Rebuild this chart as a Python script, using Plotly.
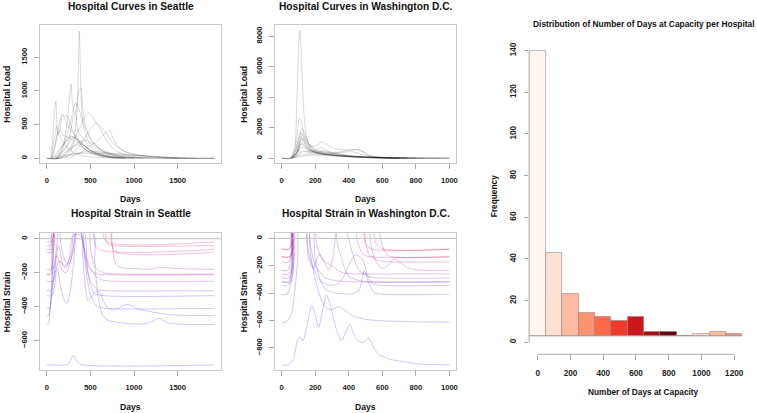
import plotly.graph_objects as go

W, H = 757, 413

# ---------------- DATA ----------------
# Seattle hospital load curves: (days, load)
SEA_LOAD = [
    ([0,150,250,300,340,360,372,385,400,430,480,560,700,900,1200,1922], [0,0,60,200,600,1300,1890,1300,700,400,250,150,60,20,5,0]),
    ([0,120,180,230,260,277,295,320,345,370,392,415,450,520,650,900,1922], [0,0,150,500,900,1100,800,650,800,1000,1050,700,450,250,100,20,0]),
    ([40,65,85,103,118,140,170,220,300,450,700,900], [0,250,650,850,450,330,280,180,90,30,5,0]),
    ([60,100,140,175,200,230,260,300,360,450,600,900,1100], [0,250,500,660,620,640,540,400,250,120,40,10,0]),
    ([110,180,240,290,330,360,400,450,520,650,850,1000], [0,150,400,650,820,760,600,420,250,100,25,0]),
    ([0,150,250,330,400,440,475,510,550,600,680,780,950,1200,1922], [0,0,120,320,520,620,670,640,560,460,280,120,40,10,0]),
    ([200,300,380,450,510,560,600,650,720,800,950,1200,1500,1700], [0,80,200,330,460,520,490,420,300,170,70,25,8,0]),
    ([250,380,480,560,630,690,720,750,800,900,1050,1300,1500], [0,80,170,240,320,390,420,330,200,100,50,15,0]),
    ([50,90,125,150,180,230,300,380,480,600,800,1000], [0,150,380,430,350,320,280,220,140,60,15,0]),
    ([80,150,210,260,320,380,450,550,700,900], [0,120,250,330,310,240,160,80,25,0]),
    ([100,180,250,300,350,420,500,650,900,1100], [0,100,220,310,280,200,120,50,10,0]),
    ([120,220,290,340,390,460,560,700,900], [0,70,160,200,180,120,60,20,0]),
    ([60,110,170,230,280,330,380,450,600,800], [0,80,180,260,320,300,220,120,40,0]),
    ([0,150,250,400,550,700,900,1100,1300,1500,1922], [0,0,40,90,100,80,60,40,25,10,0]),
    ([100,200,350,500,700,900,1100,1350,1600], [0,40,70,75,65,50,35,15,0]),
    ([60,150,230,280,305,330,350,380,430,500,600,750,950], [0,70,180,450,630,640,450,350,280,170,80,20,0]),
    ([50,85,110,130,150,175,200,240,300,380,480,650,850], [0,300,480,350,420,640,600,480,380,260,130,30,0]),
    ([100,200,300,380,450,520,600,750,1000,1200], [0,80,180,240,270,220,150,70,20,0]),
]

# Washington D.C. hospital load curves: (days, load)
DC_LOAD = [
    ([0,55,75,90,100,108,116,125,140,160,190,250,350,500,700,1000], [0,0,500,3500,7000,8390,7000,4500,2000,900,450,250,120,40,5,0]),
    ([0,50,75,95,105,118,140,170,205,240,270,310,360,410,460,490,520,600,800,1000], [0,0,500,1800,2600,2300,1300,800,800,1050,900,650,560,550,560,400,150,30,5,0]),
    ([55,80,100,122,140,170,210,260,320,390,440,480,520,600,800], [0,400,1300,1950,1500,800,450,380,350,500,550,450,200,50,0]),
    ([55,80,100,115,135,170,210,250,300,380,500,700], [0,400,1200,1700,1200,600,400,480,350,180,50,0]),
    ([55,85,100,112,130,165,200,235,280,350,450,600,750], [0,400,1000,1400,1150,550,500,700,450,260,120,20,0]),
    ([0,55,85,105,118,140,180,240,300,360,420,470,520,650,1000], [0,0,300,900,1200,900,500,320,300,380,420,280,120,20,0]),
    ([60,90,108,125,150,200,260,350,500,700], [0,350,850,950,650,380,250,150,50,0]),
    ([60,90,110,130,160,220,300,400,550,750], [0,250,650,700,520,300,200,110,40,0]),
    ([70,100,125,150,190,250,330,450,650], [0,250,480,450,380,280,160,60,0]),
    ([60,100,130,170,220,300,400,550,800], [0,250,430,380,300,200,110,40,0]),
    ([60,95,115,135,170,230,300,400,500,700,850], [0,400,950,800,500,350,230,130,60,10,0]),
    ([0,60,100,140,200,280,360,450,600,800,1000], [0,0,150,280,260,220,180,110,40,10,0]),
    ([60,90,110,125,150,200,260,350,500,700], [0,400,1100,1300,900,500,300,160,50,0]),
    ([60,110,170,250,350,480,620,800,950], [0,100,200,170,130,110,60,20,0]),
    ([60,100,120,150,200,300,400,550,750], [0,500,1600,1100,600,300,150,60,0]),
]

# Seattle hospital strain curves (load - capacity), ordered small -> large capacity
SEA_STRAIN = [
    ([0,50,80,110,600,640,680,1922], [-18,-18,40,400,400,60,-15,-18]),
    ([0,45,75,100,640,670,700,750,1922], [-40,-40,20,300,300,30,-30,-40,-40]),
    ([0,55,80,100,500,540,580,1922], [-63,-63,0,300,300,0,-60,-63]),
    ([0,60,85,110,700,740,780,1922], [-80,-80,-20,300,300,-10,-75,-80]),
    ([0,50,70,90,720,745,760,790,850,1000,1150,1300,1500,1922], [-180,-180,-120,200,200,0,-80,-150,-170,-175,-180,-170,-176,-180]),
    ([0,40,60,80,100,450,500,560,650,800,1922], [-208,-208,-150,-50,200,200,-60,-170,-200,-207,-208]),
    ([0,50,80,110,140,180,220,260,300,340,380,430,480,560,700,1922], [-212,-212,-160,-100,-130,-190,-200,-150,-60,50,50,-80,-170,-205,-212,-212]),
    ([0,70,100,130,150,180,220,260,300,380,430,480,560,650,800,1922], [-250,-250,-150,-40,-60,-150,-170,-100,20,20,-60,-150,-220,-245,-250,-250]),
    ([0,50,80,110,140,170,210,250,300,340,400,440,500,580,700,1922], [-306,-306,-220,-50,50,-60,-130,-150,-80,50,50,-120,-250,-300,-306,-306]),
    ([0,60,90,120,150,190,230,280,320,420,470,540,650,1922], [-335,-335,-270,-150,-130,-160,-150,-90,50,50,-200,-320,-335,-335]),
    ([0,30,60,90,120,150,190,230,270,310,350,400,440,500,580,700,1922], [-410,-410,-320,-200,-180,-260,-350,-380,-300,-120,50,20,-150,-330,-400,-410,-410]),
    ([0,20,45,70,100,380,410,440,470,510,560,610,650,700,760,850,920,980,1050,1150,1300,1500,1922], [-453,-453,-380,-150,50,50,-100,-280,-365,-340,-310,-320,-370,-410,-420,-400,-388,-395,-415,-425,-440,-450,-453]),
    ([0,15,35,60,80,520,550,590,640,700,800,950,1100,1200,1290,1380,1500,1922], [-505,-505,-420,-200,50,50,-150,-350,-450,-480,-492,-500,-502,-490,-468,-495,-503,-505]),
    ([0,200,250,280,300,320,360,420,1922], [-743,-743,-735,-705,-688,-700,-730,-743,-743]),
]

# Washington D.C. hospital strain curves, ordered small -> large capacity
DC_STRAIN = [
    ([0,40,60,75,520,560,600,1000], [-78,-78,-40,200,200,-30,-75,-78]),
    ([0,45,65,80,460,500,540,1000], [-80,-80,-30,200,200,-40,-78,-80]),
    ([0,50,70,85,560,590,620,650,1000], [-134,-134,-80,200,200,0,-110,-133,-134]),
    ([0,45,65,80,420,450,490,530,1000], [-136,-136,-70,200,200,-20,-120,-134,-136]),
    ([0,40,60,80,470,500,520,560,600,650,1000], [-173,-173,-100,200,200,-20,-115,-155,-168,-172,-173]),
    ([0,35,55,75,500,530,560,600,640,670,700,760,850,1000], [-234,-234,-150,200,200,-40,-160,-220,-190,-150,-170,-220,-232,-234]),
    ([0,40,60,75,180,210,240,270,300,330,360,400,460,1000], [-260,-260,-180,200,200,-50,-150,-180,-200,-230,-250,-258,-260,-260]),
    ([0,40,65,85,130,160,190,210,227,250,285,310,331,380,420,460,520,600,1000], [-290,-290,-200,200,200,-150,-220,-150,-115,-170,-230,-100,50,50,-100,-230,-280,-290,-290]),
    ([0,40,60,80,150,170,200,230,260,290,330,380,1000], [-316,-316,-230,200,200,-40,-200,-250,-290,-300,-310,-316,-316]),
    ([0,50,70,85,300,330,370,400,440,470,500,1000], [-320,-320,-220,200,200,-20,-200,-280,-300,-310,-318,-320]),
    ([0,40,60,80,130,160,200,240,280,320,360,400,440,480,510,540,600,1000], [-343,-343,-250,200,200,-100,-250,-320,-340,-340,-300,-200,-120,-150,-260,-330,-343,-343]),
    ([0,30,55,75,95,170,200,230,260,300,350,420,460,480,490,500,520,550,600,1000], [-409,-409,-330,-150,200,200,-150,-300,-370,-395,-403,-405,-380,-300,-238,-250,-330,-395,-408,-409]),
    ([0,30,55,75,95,110,150,170,200,230,260,290,320,345,380,430,500,600,800,1000], [-613,-610,-560,-420,-150,200,200,-100,-300,-430,-500,-520,-510,-500,-530,-570,-592,-603,-610,-613]),
    ([0,40,70,95,110,125,150,180,200,220,245,268,300,330,357,380,406,430,460,489,519,545,580,650,720,820,1000],
     [-925,-925,-880,-740,-720,-750,-650,-490,-560,-650,-520,-415,-540,-680,-745,-690,-630,-700,-755,-760,-728,-790,-850,-885,-900,-918,-925]),
]

HIST_BINS = [0, 100, 200, 300, 400, 500, 600, 700, 800, 900, 1000, 1100, 1200]
HIST_TOPS = [140, 43, 23, 14, 12, 10, 12, 5, 5, 3, 4, 5, 4]
HIST_BASE = 3
REDS = ["#FFF5F0", "#FEE0D2", "#FCBBA1", "#FC9272", "#FB6A4A", "#EF3B2C", "#CB181D", "#A50F15", "#67000D"]

SEA_X_TICKS = [0, 500, 1000, 1500]
DC_X_TICKS = [0, 200, 400, 600, 800, 1000]
SEA_LOAD_Y_TICKS = [0, 500, 1000, 1500]
DC_LOAD_Y_TICKS = [0, 2000, 4000, 6000, 8000]
SEA_STRAIN_Y_TICKS = [0, -200, -400, -600]
DC_STRAIN_Y_TICKS = [0, -200, -400, -600, -800]
HIST_X_TICKS = [0, 200, 400, 600, 800, 1000, 1200]
HIST_Y_TICKS = [0, 20, 40, 60, 80, 100, 120, 140]

# ---------------- FIGURE ----------------
FONT = "Liberation Sans"
fig = go.Figure()


def px_x(p):
    return p / W


def px_y(p):
    return 1 - p / H


def strain_color(i, n, alpha=0.33):
    t = i / (n - 1)
    c0 = (235, 0, 90)
    c1 = (45, 45, 255)
    r, g, b = [round(a + (b_ - a) * t) for a, b_ in zip(c0, c1)]
    return f"rgba({r},{g},{b},{alpha})"


LOAD_LINE = dict(color="rgba(0,0,0,0.19)", width=0.8, shape="spline", smoothing=0.8)

for d, v in SEA_LOAD:
    fig.add_trace(go.Scatter(x=d, y=v, mode="lines", xaxis="x", yaxis="y", line=LOAD_LINE,
                             hoverinfo="skip", showlegend=False))
for d, v in DC_LOAD:
    fig.add_trace(go.Scatter(x=d, y=v, mode="lines", xaxis="x2", yaxis="y2", line=LOAD_LINE,
                             hoverinfo="skip", showlegend=False))
for i, (d, v) in enumerate(SEA_STRAIN):
    fig.add_trace(go.Scatter(x=d, y=v, mode="lines", xaxis="x3", yaxis="y3",
                             line=dict(color=strain_color(i, len(SEA_STRAIN)), width=0.8, shape="spline", smoothing=0.8),
                             hoverinfo="skip", showlegend=False))
for i, (d, v) in enumerate(DC_STRAIN):
    fig.add_trace(go.Scatter(x=d, y=v, mode="lines", xaxis="x4", yaxis="y4",
                             line=dict(color=strain_color(i, len(DC_STRAIN)), width=0.8, shape="spline", smoothing=0.8),
                             hoverinfo="skip", showlegend=False))

bar_colors = [REDS[i % len(REDS)] for i in range(len(HIST_BINS))]
fig.add_trace(go.Bar(x=HIST_BINS, y=[t - HIST_BASE for t in HIST_TOPS], base=HIST_BASE, width=100,
                     xaxis="x5", yaxis="y5",
                     marker=dict(color=bar_colors, line=dict(color="rgba(150,130,125,0.55)", width=1)),
                     hoverinfo="skip", showlegend=False))
# baseline of the histogram (empty bins drawn as a line, as in R)
fig.add_trace(go.Scatter(x=[HIST_BINS[0] - 50, HIST_BINS[-1] + 50], y=[HIST_BASE, HIST_BASE], mode="lines",
                         xaxis="x5", yaxis="y5", line=dict(color="rgba(150,130,125,0.55)", width=1),
                         hoverinfo="skip", showlegend=False))

BOX = "#C8C8C8"
TICKC = "#A8A8A8"
tickfont = dict(family=FONT, size=7.6, color="#222222", weight="bold")


def line_xaxis(dom, rng, ticks, anchor):
    return dict(domain=dom, range=rng, anchor=anchor, tickvals=ticks, ticks="outside", ticklen=5,
                tickcolor=TICKC, tickwidth=1, showline=True, mirror=True, linecolor=BOX, linewidth=1,
                showgrid=False, zeroline=False, tickfont=tickfont, ticklabelstandoff=5, fixedrange=True)


def line_yaxis(dom, rng, ticks, anchor):
    return dict(domain=dom, range=rng, anchor=anchor, tickvals=ticks, ticks="outside", ticklen=5,
                tickcolor=TICKC, tickwidth=1, showline=True, mirror=True, linecolor=BOX, linewidth=1,
                showgrid=False, zeroline=False, tickfont=tickfont, tickangle=-90, ticklabelstandoff=4,
                fixedrange=True)


XL = [px_x(40.3), px_x(221.7)]
XM = [px_x(275.7), px_x(457.3)]
YT = [px_y(163.3), px_y(25)]
YB = [px_y(370), px_y(233.3)]

layout = dict(
    width=W, height=H, autosize=False, margin=dict(l=0, r=0, t=0, b=0),
    plot_bgcolor="white", paper_bgcolor="white", showlegend=False, bargap=0,
    xaxis=line_xaxis(XL, [-77, 1999], SEA_X_TICKS, "y"),
    yaxis=line_yaxis(YT, [-74, 1980], SEA_LOAD_Y_TICKS, "x"),
    xaxis2=line_xaxis(XM, [-40, 1040], DC_X_TICKS, "y2"),
    yaxis2=line_yaxis(YT, [-335, 8725], DC_LOAD_Y_TICKS, "x2"),
    xaxis3=line_xaxis(XL, [-77, 1999], SEA_X_TICKS, "y3"),
    yaxis3=line_yaxis(YB, [-773, 32], SEA_STRAIN_Y_TICKS, "x3"),
    xaxis4=line_xaxis(XM, [-40, 1040], DC_X_TICKS, "y4"),
    yaxis4=line_yaxis(YB, [-962, 37], DC_STRAIN_Y_TICKS, "x4"),
    xaxis5=dict(domain=[px_x(530.5), px_x(752)], range=[-52.9, 1296.7], anchor="y5", tickvals=HIST_X_TICKS,
                ticks="outside", ticklen=5, tickcolor=TICKC, showline=False, showgrid=False, zeroline=False,
                tickfont=dict(family=FONT, size=8.2, color="#222222", weight="bold"), ticklabelstandoff=6,
                fixedrange=True),
    yaxis5=dict(domain=[px_y(354.3), px_y(30)], range=[-5.76, 149.9], anchor="x5", tickvals=HIST_Y_TICKS,
                ticks="outside", ticklen=4, tickcolor=TICKC, showline=False, showgrid=False, zeroline=False,
                tickfont=dict(family=FONT, size=8.2, color="#222222", weight="bold"), tickangle=-90,
                ticklabelstandoff=5, fixedrange=True),
)
fig.update_layout(**layout)

# zero reference lines in strain panels
for xr, yr in (("x3", "y3"), ("x4", "y4")):
    fig.add_shape(type="line", xref=f"{xr} domain", yref=yr, x0=0, x1=1, y0=0, y1=0,
                  line=dict(color="#BEBEBE", width=1), layer="above")
# histogram axis lines (R style: span first to last tick)
fig.add_shape(type="line", xref="x5", yref="y5 domain", x0=HIST_X_TICKS[0], x1=HIST_X_TICKS[-1], y0=0, y1=0,
              line=dict(color=TICKC, width=1))
fig.add_shape(type="line", xref="x5 domain", yref="y5", x0=0, x1=0, y0=HIST_Y_TICKS[0], y1=HIST_Y_TICKS[-1],
              line=dict(color=TICKC, width=1))


def ann(text, x, y, size, angle=0):
    fig.add_annotation(text=text, x=px_x(x), y=px_y(y), xref="paper", yref="paper", showarrow=False,
                       textangle=angle, xanchor="center", yanchor="middle",
                       font=dict(family=FONT, size=size, color="#111111", weight="bold"))


ann("Hospital Curves in Seattle", 131, 7, 10.2)
ann("Hospital Curves in Washington D.C.", 366.5, 7, 10.2)
ann("Hospital Strain in Seattle", 131, 213, 10.2)
ann("Hospital Strain in Washington D.C.", 366.5, 213, 10.2)
ann("Days", 131, 199, 8.6)
ann("Days", 366.5, 199, 8.6)
ann("Days", 131, 406.5, 8.6)
ann("Days", 366.5, 406.5, 8.6)
ann("Hospital Load", 6.7, 94, 8.6, -90)
ann("Hospital Load", 244.5, 94, 8.6, -90)
ann("Hospital Strain", 6.7, 301.5, 8.6, -90)
ann("Hospital Strain", 244.5, 301.5, 8.6, -90)
ann("Distribution of Number of Days at Capacity per Hospital", 645.7, 24, 8.4)
ann("Number of Days at Capacity", 645.7, 392.3, 8.3)
ann("Frequency", 495.5, 196, 8.3, -90)

fig.write_html("out.html", config={"displayModeBar": False},
               post_script="document.body.style.margin='0';document.body.style.overflow='hidden';")
